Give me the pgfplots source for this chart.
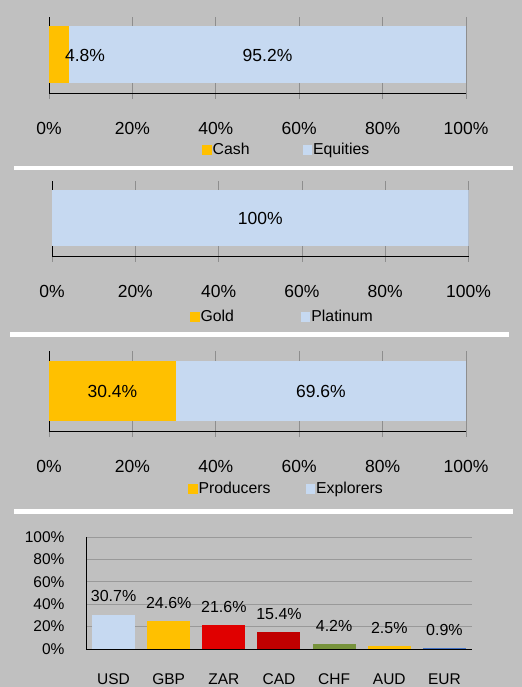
\documentclass[border=0pt]{standalone}
\usepackage{pgfplots}
\pgfplotsset{compat=1.18}
\usepackage{fontspec}
\setmainfont{Liberation Sans}

\definecolor{bg}{HTML}{C0C0C0}
\definecolor{lblue}{HTML}{C6D9F1}
\definecolor{gold}{HTML}{FFC000}
\definecolor{zarred}{HTML}{E00000}
\definecolor{cadred}{HTML}{C00000}
\definecolor{olive}{HTML}{77933C}
\definecolor{eurblue}{HTML}{4472C4}
\definecolor{gridgray}{HTML}{8E8E8E}

\newcommand{\fs}[1]{\fontsize{#1}{#1}\selectfont}

\pgfplotsset{
  hbar/.style={
    scale only axis, anchor=south west,
    xbar stacked, xmin=0, xmax=100, ymin=0, ymax=1,
    enlargelimits=false,
    ytick=\empty, xtick={0,20,...,100},
    xticklabel={\pgfmathprintnumber{\tick}\%},
    axis x line=bottom, axis y line=left,
    axis line style={black,-,line width=0.9bp},
    xmajorgrids, grid style={gridgray,line width=0.8bp},
    major tick length=6bp, tick align=outside,
    xtick style={gridgray,line width=0.8bp},
    ticklabel style={font=\fs{17.5bp}},
    xticklabel style={yshift=-20bp},
    /pgf/number format/assume math mode=true,
    legend columns=2,
    legend style={draw=none, fill=none, anchor=west, font=\fs{15.8bp},
      inner sep=0pt, nodes={inner sep=1bp}},
    legend image code/.code={\fill[##1,draw=none] (0bp,-4.75bp) rectangle (9.5bp,4.75bp);},
  },
  % label centred on its segment, moved by #1
  lbl/.style={
    point meta=explicit,
    nodes near coords={\pgfmathprintnumber[fixed,fixed zerofill,precision=1]{\pgfplotspointmeta}\%},
    every node near coord/.append style={font=\fs{17.5bp}, anchor=center, text=black, xshift=#1},
  },
  lbl/.default=0bp,
}

\begin{document}
\begin{tikzpicture}
\fill[bg] (0,0) rectangle (522bp,687bp);
\useasboundingbox (0,0) rectangle (522bp,687bp);
% white separators
\fill[white] (14bp,517bp) rectangle (513bp,521bp);
\fill[white] (10bp,350bp) rectangle (509bp,355bp);
\fill[white] (14bp,173bp) rectangle (513bp,178bp);

% Cash / Equities
\begin{axis}[hbar, at={(49bp,594bp)}, width=417bp, height=76bp, bar width=57bp,
  legend style={at={(0.367,-0.75)}, /tikz/every even column/.append style={column sep=52bp}}]
\addplot[fill=gold, draw=none, lbl=26bp] coordinates {(4.8,0.5) [4.8]};
\addplot[fill=lblue, draw=none, lbl] coordinates {(95.2,0.5) [95.2]};
\legend{Cash,Equities}
\end{axis}

% Gold / Platinum
\begin{axis}[hbar, at={(52bp,431bp)}, width=416.5bp, height=75bp, bar width=56bp,
  legend style={at={(0.331,-0.813)}, /tikz/every even column/.append style={column sep=66bp}}]
\addplot[fill=gold, draw=none] coordinates {(0,0.5)};
\addplot[fill=lblue, draw=none, lbl,
  nodes near coords={\pgfmathprintnumber{\pgfplotspointmeta}\%}]
  coordinates {(100,0.5) [100]};
\legend{Gold,Platinum}
\end{axis}

% Producers / Explorers
\begin{axis}[hbar, at={(49bp,256bp)}, width=417bp, height=80bp, bar width=60bp,
  legend style={at={(0.333,-0.725)}, /tikz/every even column/.append style={column sep=34bp}}]
\addplot[fill=gold, draw=none, lbl] coordinates {(30.4,0.5) [30.4]};
\addplot[fill=lblue, draw=none, lbl] coordinates {(69.6,0.5) [69.6]};
\legend{Producers,Explorers}
\end{axis}

% currencies
\begin{axis}[at={(86bp,38bp)}, anchor=south west, scale only axis,
  width=386bp, height=112bp,
  ybar, bar width=43bp, bar shift=0pt,
  xmin=-0.5, xmax=6.5, ymin=0, ymax=100, enlargelimits=false,
  xtick={0,...,6}, xticklabels={USD,GBP,ZAR,CAD,CHF,AUD,EUR},
  ytick={0,20,...,100}, yticklabel={\pgfmathprintnumber{\tick}\%},
  axis x line=bottom, axis y line=left,
  axis line style={black,-,line width=0.9bp},
  ymajorgrids, grid style={gridgray!90,line width=0.8bp},
  major tick length=0pt,
  ticklabel style={font=\fs{15.5bp}},
  xticklabel style={yshift=-21bp}, yticklabel style={xshift=-18bp},
  /pgf/number format/assume math mode=true,
  nodes near coords={\pgfmathprintnumber[fixed,fixed zerofill,precision=1]{\pgfplotspointmeta}\%},
  every node near coord/.append style={font=\fs{16bp}, text=black, yshift=9bp},
]
\addplot[fill=lblue, draw=none] coordinates {(0,30.7)};
\addplot[fill=gold, draw=none] coordinates {(1,24.6)};
\addplot[fill=zarred, draw=none] coordinates {(2,21.6)};
\addplot[fill=cadred, draw=none] coordinates {(3,15.4)};
\addplot[fill=olive, draw=none] coordinates {(4,4.2)};
\addplot[fill=gold, draw=none] coordinates {(5,2.5)};
\addplot[fill=eurblue, draw=none] coordinates {(6,0.9)};
\end{axis}
\end{tikzpicture}
\end{document}
